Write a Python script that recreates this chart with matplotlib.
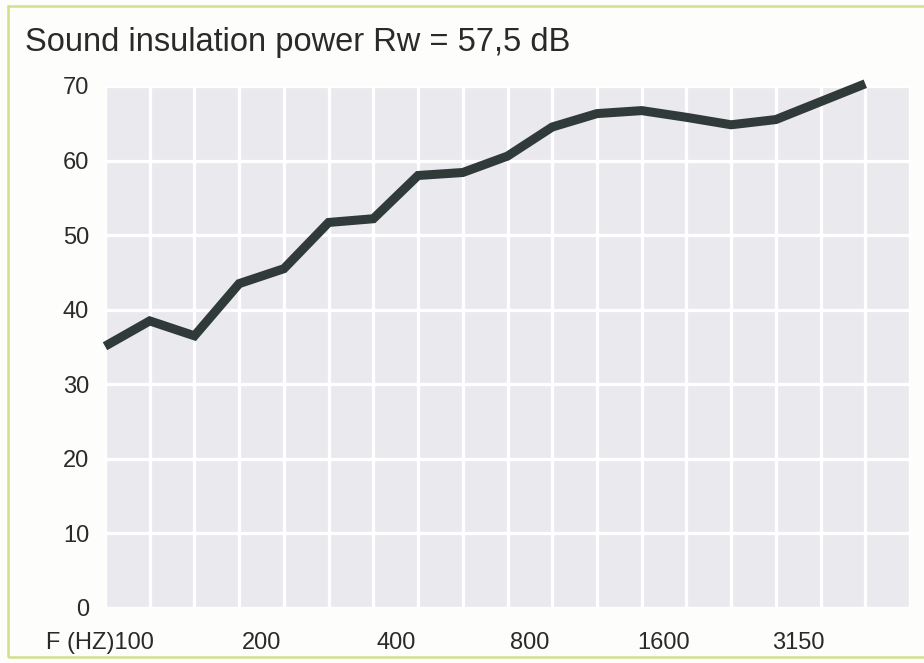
import matplotlib
matplotlib.use("Agg")
import matplotlib.pyplot as plt
from matplotlib.patches import Rectangle

# third-octave bands (Hz) and measured sound reduction (dB)
bands = [100, 125, 160, 200, 250, 315, 400, 500, 630, 800,
         1000, 1250, 1600, 2000, 2500, 3150, 4000, 5000]
reduction_db = [35.1, 38.5, 36.5, 43.5, 45.5, 51.7, 52.2, 58.0, 58.4, 60.6,
                64.5, 66.3, 66.7, 65.8, 64.8, 65.5, 67.9, 70.3]
label_bands = [100, 200, 400, 800, 1600, 3150]
x_labels = ["F (HZ)100", "200", "400", "800", "1600", "3150"]
y_ticks = [0, 10, 20, 30, 40, 50, 60, 70]

title = "Sound insulation power Rw = 57,5 dB"

plt.rcParams["font.family"] = ["Liberation Sans", "DejaVu Sans"]

fig = plt.figure(figsize=(9.24, 6.63), dpi=100)
fig.patch.set_facecolor("#fdfdfb")

# greenish frame around the panel
fig.add_artist(Rectangle((8 / 924, 6 / 663), 1.05, (657 - 6) / 663,
                         transform=fig.transFigure, fill=False,
                         edgecolor="#d3df8a", linewidth=1.8))

fig.text(25 / 924, 1 - 42 / 663, title, fontsize=23.5, color="#2a2a2a",
         ha="left", va="center")

ax = fig.add_axes([105 / 924, 55 / 663, 805 / 924, 522 / 663])
ax.set_facecolor("#e9e9ee")

xs = list(range(len(bands)))
ax.plot(xs, reduction_db, color="#2f3a39", linewidth=6.5,
        solid_joinstyle="miter", solid_capstyle="butt", clip_on=False, zorder=3)

ax.set_xlim(0, len(bands))
ax.set_ylim(0, 70)

# white cell grid (one column per band)
ax.xaxis.remove_overlapping_locs = False
ax.set_xticks(range(0, len(bands) + 1), minor=True)
ax.set_yticks(y_ticks)
ax.grid(True, which="minor", axis="x", color="white", linewidth=2.4)
ax.grid(False, which="major", axis="x")
ax.grid(True, which="major", axis="y", color="white", linewidth=2.4)
ax.set_axisbelow(True)

# labels sit in the middle of the column following each band
tick_pos = [bands.index(b) + 0.5 for b in label_bands]
tick_pos[0] = 1.1  # first label is right-aligned ("F (HZ)" hangs to the left)
ax.set_xticks(tick_pos)
ax.set_xticklabels(x_labels, fontsize=17, color="#2a2a2a")
ax.get_xticklabels()[0].set_ha("right")
ax.set_yticklabels([str(v) for v in y_ticks], fontsize=17, color="#2a2a2a")
ax.tick_params(axis="x", which="both", length=0, pad=17)
ax.tick_params(axis="y", which="both", length=0, pad=11.5)

for s in ax.spines.values():
    s.set_visible(False)

fig.savefig("out.png", dpi=100, facecolor=fig.get_facecolor())
